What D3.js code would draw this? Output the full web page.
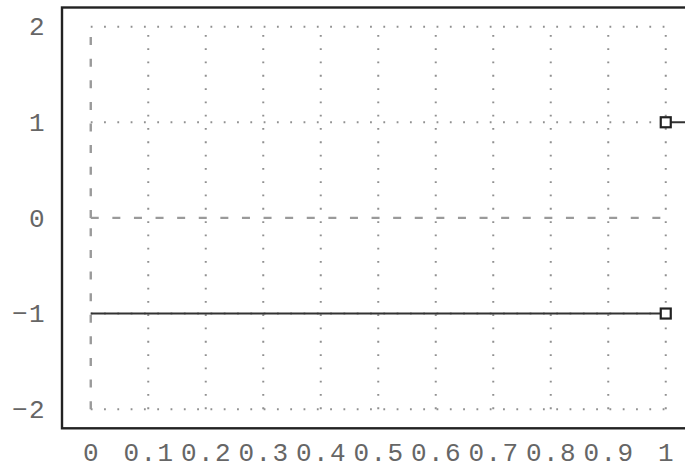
<!DOCTYPE html>
<html>
<head>
<meta charset="utf-8">
<script src="https://cdn.jsdelivr.net/npm/d3@7"></script>
<style>
  html, body { margin: 0; padding: 0; background: #fff; }
  svg { display: block; }
</style>
</head>
<body>
<svg id="chart" width="685" height="469"></svg>
<script>
// ---- data ----
const xTicks = [0, 0.1, 0.2, 0.3, 0.4, 0.5, 0.6, 0.7, 0.8, 0.9, 1];
const xTickLabels = ["0", "0.1", "0.2", "0.3", "0.4", "0.5", "0.6", "0.7", "0.8", "0.9", "1"];
const yTicks = [-2, -1, 0, 1, 2];
const yTickLabels = ["\u22122", "\u22121", "0", "1", "2"];
const lowX = [0, 1];
const lowY = [-1, -1];
const highX = [1, 1.2];
const highY = [1, 1];
const markerX = [1, 1];
const markerY = [-1, 1];
const guideX = [[0, 0], [0, 0], [0, 1]];
const guideY = [[-2, 0], [0, 2], [0, 0]];

// ---- layout ----
const svg = d3.select("#chart");
const frame = { left: 62, right: 694.5, top: 7.5, bottom: 428.3 };
const x = d3.scaleLinear().domain([-0.05, 1.05]).range([frame.left, frame.right]);
const y = d3.scaleLinear().domain([-2.2, 2.2]).range([frame.bottom, frame.top]);
const xMin = d3.min(xTicks), xMax = d3.max(xTicks);
const yMin = d3.min(yTicks), yMax = d3.max(yTicks);

svg.append("defs").append("clipPath").attr("id", "clip")
  .append("rect")
  .attr("x", frame.left).attr("y", frame.top)
  .attr("width", frame.right - frame.left).attr("height", frame.bottom - frame.top);

// dotted grid (the zero lines are drawn dashed instead)
const grid = svg.append("g").attr("stroke", "#909090").attr("stroke-width", 2)
  .attr("stroke-dasharray", "1.8,11.5").attr("fill", "none");
grid.selectAll("line.v").data(xTicks.filter(d => d !== 0)).join("line").attr("class", "v")
  .attr("x1", d => x(d)).attr("x2", d => x(d))
  .attr("y1", y(yMin)).attr("y2", y(yMax));
grid.selectAll("line.h").data(yTicks.filter(d => d !== 0)).join("line").attr("class", "h")
  .attr("y1", d => y(d)).attr("y2", d => y(d))
  .attr("x1", x(xMin)).attr("x2", x(xMax));

// dashed guides
const line = d3.line().x(d => x(d[0])).y(d => y(d[1]));
const guides = guideX.map((gx, i) => gx.map((v, j) => [v, guideY[i][j]]));
svg.append("g").selectAll("path").data(guides).join("path")
  .attr("d", line)
  .attr("fill", "none").attr("stroke", "#9a9a9a").attr("stroke-width", 2.4)
  .attr("stroke-dasharray", "8,13.6");

// data lines
const plot = svg.append("g").attr("clip-path", "url(#clip)");
const series = [
  lowX.map((v, i) => [v, lowY[i]]),
  highX.map((v, i) => [v, highY[i]])
];
plot.selectAll("path.s").data(series).join("path").attr("class", "s")
  .attr("d", line)
  .attr("fill", "none").attr("stroke", "#333").attr("stroke-width", 2);

// markers
const ms = 10;
plot.selectAll("rect.m").data(markerX.map((v, i) => [v, markerY[i]])).join("rect").attr("class", "m")
  .attr("x", d => x(d[0]) - ms / 2).attr("y", d => y(d[1]) - ms / 2)
  .attr("width", ms).attr("height", ms)
  .attr("fill", "#fff").attr("stroke", "#222").attr("stroke-width", 2.2);

// frame
svg.append("rect")
  .attr("x", frame.left).attr("y", frame.top)
  .attr("width", frame.right - frame.left).attr("height", frame.bottom - frame.top)
  .attr("fill", "none").attr("stroke", "#222").attr("stroke-width", 2.4);

// tick labels
const font = "'Liberation Mono', 'DejaVu Sans Mono', monospace";
const ls = 1.4;
svg.append("g").selectAll("text").data(xTicks).join("text")
  .attr("x", d => x(d)).attr("y", 461).attr("dx", ls / 2)
  .attr("text-anchor", "middle")
  .attr("font-family", font).attr("font-size", 26).attr("letter-spacing", ls)
  .attr("fill", "#666")
  .text((d, i) => xTickLabels[i]);
svg.append("g").selectAll("text").data(yTicks).join("text")
  .attr("x", 46).attr("y", d => y(d)).attr("dy", "0.34em")
  .attr("text-anchor", "end")
  .attr("font-family", font).attr("font-size", 26).attr("letter-spacing", ls)
  .attr("fill", "#666")
  .text((d, i) => yTickLabels[i]);
</script>
</body>
</html>
